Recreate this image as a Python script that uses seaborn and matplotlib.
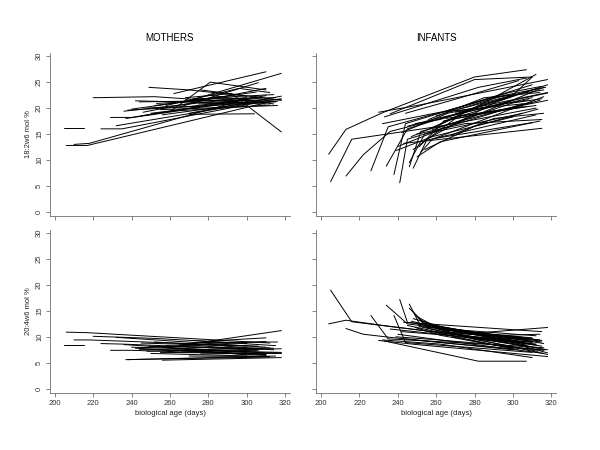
import pandas as pd
import matplotlib
matplotlib.use("Agg")
import matplotlib.pyplot as plt
import seaborn as sns

# ==========================================
# DATOS
# ==========================================

# madres: edad biologica (dias) por sujeto
mom_age = [
    [205, 215], [206, 217, 312], [210, 218, 306], [220, 252, 300],
    [224, 235, 305], [229, 240, 310], [232, 310], [236, 300],
    [238, 315], [240, 305], [242, 310], [244, 318],
    [245, 300], [248, 270, 308], [249, 270, 300], [250, 312],
    [252, 282, 314], [255, 316], [256, 318], [258, 296, 312],
    [260, 281, 310], [262, 310], [265, 306], [266, 318],
    [268, 292, 318], [270, 304], [272, 315], [275, 316],
    [276, 318], [280, 314], [270, 318], [237, 265, 312],
    [246, 310], [253, 300],
]

# madres: 18:2w6 mol %
mom_la = [
    [16.1, 16.1], [12.8, 12.8, 21.2], [13.0, 13.2, 22.4], [22.0, 22.2, 21.0],
    [16.0, 16.0, 21.0], [18.2, 18.2, 22.4], [16.6, 21.4], [19.4, 22.0],
    [19.6, 21.2], [19.8, 23.1], [21.4, 20.8], [21.2, 21.6],
    [18.5, 21.6], [20.0, 20.3, 22.0], [24.0, 23.5, 22.3], [19.0, 21.8],
    [20.5, 22.0, 22.6], [19.7, 20.5], [18.7, 21.8], [20.5, 23.8, 23.0],
    [19.3, 25.0, 23.5], [22.8, 27.0], [20.2, 24.9], [21.0, 26.7],
    [22.0, 22.8, 15.4], [18.8, 18.9], [21.8, 22.0], [20.8, 21.3],
    [23.5, 21.5], [22.5, 20.8], [19.0, 22.3], [18.0, 19.5, 20.6],
    [19.2, 23.8], [20.9, 21.9],
]

# madres: 20:4w6 mol %
mom_aa = [
    [8.5, 8.5], [10.9, 10.8, 8.8], [9.4, 9.4, 8.2], [10.1, 9.7, 8.7],
    [8.7, 8.6, 7.6], [7.4, 7.4, 6.6], [9.9, 8.0], [8.5, 7.0],
    [5.6, 6.3], [8.0, 7.3], [7.8, 6.6], [7.6, 7.0],
    [8.8, 8.2], [7.2, 7.5, 7.0], [8.2, 8.0, 7.8], [6.8, 6.2],
    [9.0, 8.4, 7.5], [7.0, 6.8], [5.5, 6.0], [8.3, 7.6, 7.9],
    [8.0, 9.2, 9.8], [7.5, 6.4], [8.6, 7.4], [7.1, 7.7],
    [7.7, 7.2, 6.8], [6.3, 6.2], [9.3, 8.3], [8.9, 9.0],
    [6.7, 6.9], [7.9, 7.8], [8.6, 11.2], [5.6, 5.8, 6.1],
    [7.9, 9.1], [8.1, 6.5],
]

# lactantes: edad biologica (dias) por sujeto
inf_age = [
    [204, 213, 232, 280, 307], [205, 216, 262, 312], [213, 222, 236, 300],
    [226, 235, 290, 316], [234, 245, 300], [238, 244, 310],
    [241, 245, 305], [246, 252, 314], [248, 255, 312],
    [250, 262, 314], [233, 282, 307], [230, 250, 318],
    [236, 280, 310], [240, 270, 316], [243, 315],
    [242, 266, 318], [245, 260, 310], [247, 272, 312],
    [249, 262, 300], [250, 275, 315], [252, 258, 316],
    [254, 280, 313], [255, 290, 318], [256, 285, 314],
    [258, 300, 315], [260, 296, 317], [262, 280, 312],
    [264, 300, 318], [265, 305], [266, 298, 315],
    [268, 290, 316], [270, 308], [244, 268, 303],
    [232, 262, 310], [239, 258, 300], [246, 254, 305],
    [251, 264, 318], [257, 282, 313], [272, 300, 310],
    [260, 310], [248, 270, 307],
]

# lactantes: 18:2w6 mol %
inf_la = [
    [11.1, 15.9, 19.1, 26.0, 27.4], [5.8, 14.0, 16.5, 20.0], [6.9, 11.0, 15.5, 21.5],
    [7.9, 16.4, 22.0, 23.5], [8.8, 16.0, 22.3], [7.2, 17.0, 24.5],
    [5.6, 14.0, 20.8], [8.7, 15.5, 21.5], [8.4, 13.8, 18.7],
    [10.6, 13.5, 17.5], [18.3, 24.0, 25.8], [19.2, 20.5, 25.5],
    [18.9, 25.5, 26.0], [12.6, 17.0, 24.0], [13.2, 16.1],
    [15.3, 19.0, 23.0], [16.5, 18.0, 22.0], [14.5, 18.5, 20.5],
    [17.0, 17.8, 22.5], [15.0, 17.0, 17.8], [11.5, 14.0, 22.2],
    [12.0, 16.5, 19.8], [14.0, 21.0, 24.5], [17.8, 22.0, 23.0],
    [15.8, 21.0, 21.8], [18.5, 22.5, 24.0], [16.8, 20.0, 26.5],
    [17.5, 21.5, 22.9], [18.0, 20.3], [19.5, 23.0, 24.2],
    [14.8, 18.0, 19.0], [19.2, 21.6], [19.0, 21.5, 25.3],
    [17.0, 19.2, 21.0], [11.8, 14.5, 18.3], [9.5, 15.0, 19.0],
    [12.5, 17.5, 21.5], [16.0, 20.5, 23.8], [19.8, 22.5, 26.0],
    [14.2, 17.2], [12.0, 18.0, 20.3],
]

# lactantes: 20:4w6 mol %
inf_aa = [
    [12.5, 13.2, 12.2, 10.0, 9.5], [19.0, 12.9, 10.8, 8.4], [11.6, 10.5, 9.9, 7.5],
    [14.1, 9.6, 8.5, 7.9], [16.1, 12.5, 9.8], [14.1, 8.9, 7.0],
    [17.2, 12.8, 9.6], [16.3, 12.0, 9.4], [14.8, 11.8, 10.2],
    [13.9, 11.5, 9.2], [9.2, 5.3, 5.3], [9.3, 8.5, 6.2],
    [11.5, 9.8, 9.0], [10.5, 9.0, 6.8], [12.8, 11.0],
    [11.0, 10.3, 11.8], [12.2, 11.0, 9.7], [13.0, 10.9, 8.5],
    [11.8, 10.3, 7.8], [12.5, 10.6, 9.0], [13.2, 12.2, 8.7],
    [12.4, 9.5, 7.2], [11.7, 8.8, 6.6], [12.0, 10.2, 10.5],
    [11.0, 9.1, 8.2], [10.8, 8.0, 7.5], [11.4, 9.6, 8.6],
    [10.4, 8.7, 6.9], [11.3, 9.9], [10.9, 10.0, 9.3],
    [10.0, 8.4, 7.4], [10.5, 8.0], [9.6, 8.7, 7.6],
    [9.4, 8.6, 6.0], [10.0, 9.5, 8.2], [15.5, 12.6, 9.0],
    [12.0, 11.0, 7.5], [12.3, 10.4, 7.8], [11.0, 9.3, 8.9],
    [11.5, 9.8], [13.5, 11.2, 8.4],
]

XTICKS = [200, 220, 240, 260, 280, 300, 320]
YTICKS = [0, 5, 10, 15, 20, 25, 30]


def armar_tabla(edades, valores):
    filas = []
    for i, (ee, vv) in enumerate(zip(edades, valores)):
        for e, v in zip(ee, vv):
            filas.append({"id": i, "edad": e, "valor": v})
    return pd.DataFrame(filas)


# ==========================================
# GRAFICO
# ==========================================

sns.set_style("white")
plt.rcParams["font.family"] = ["Liberation Sans", "DejaVu Sans"]

fig = plt.figure(figsize=(6, 4.5), dpi=100)

posiciones = {
    (0, 0): [0.0833, 0.52, 0.40, 0.362],
    (0, 1): [0.527, 0.52, 0.40, 0.362],
    (1, 0): [0.0833, 0.127, 0.40, 0.362],
    (1, 1): [0.527, 0.127, 0.40, 0.362],
}

paneles = {
    (0, 0): (mom_age, mom_la),
    (0, 1): (inf_age, inf_la),
    (1, 0): (mom_age, mom_aa),
    (1, 1): (inf_age, inf_aa),
}

gris = "#707070"

for (fila, col), (edades, valores) in paneles.items():
    ax = fig.add_axes(posiciones[(fila, col)])
    datos = armar_tabla(edades, valores)

    sns.lineplot(
        data=datos, x="edad", y="valor", units="id",
        estimator=None, color="black", linewidth=0.7,
        ax=ax, legend=False
    )

    ax.set_xlim(197.5, 322.5)
    ax.set_ylim(-0.8, 30.6)
    ax.set_xticks(XTICKS)
    ax.set_yticks(YTICKS)

    for lado in ["top", "right"]:
        ax.spines[lado].set_visible(False)
    for lado in ["left", "bottom"]:
        ax.spines[lado].set_color(gris)
        ax.spines[lado].set_linewidth(0.6)

    ax.tick_params(
        axis="both", direction="out", length=3, width=0.6,
        color=gris, labelcolor="#333333", labelsize=5.5, pad=2,
        left=True, bottom=True
    )

    ax.set_xlabel("")
    ax.set_ylabel("")

    if fila == 0:
        ax.set_xticklabels([])
        ax.set_title(["MOTHERS", "INFANTS"][col], fontsize=7,
                     pad=9, color="black")
    else:
        ax.set_xlabel("biological age (days)", fontsize=5.5,
                      labelpad=2, color="#222222")

    if col == 0:
        for t in ax.get_yticklabels():
            t.set_rotation(90)
            t.set_va("center")
        ax.set_ylabel(
            ["18:2w6 mol %", "20:4w6 mol %"][fila],
            fontsize=5.5, labelpad=3, color="#222222"
        )
    else:
        ax.set_yticklabels([])

fig.savefig("out.png", dpi=100)
plt.close(fig)
